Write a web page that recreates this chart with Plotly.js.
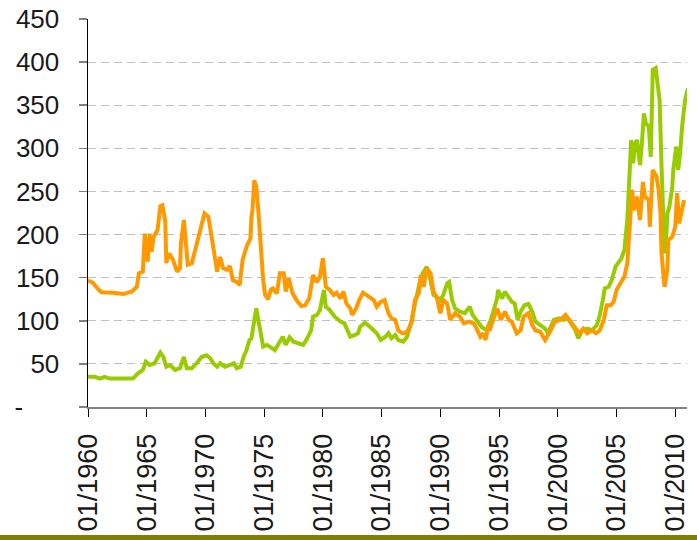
<!DOCTYPE html>
<html>
<head>
<meta charset="utf-8">
<script src="https://cdn.plot.ly/plotly-3.0.1.min.js"></script>
<style>
  html, body { margin: 0; padding: 0; background: #ffffff; }
  #chart { width: 697px; height: 540px; }
</style>
</head>
<body>
<div id="chart"></div>
<script>
// ---- Data ----
const orangeDates = [
 "1960-01","1960-06","1960-12","1961-03","1962-03","1963-01","1963-10","1964-03","1964-05","1964-09",
 "1964-11","1965-02","1965-04","1965-06","1965-08","1965-12","1966-03","1966-05","1966-08","1966-09",
 "1966-12","1967-04","1967-08","1967-11","1967-12","1968-03","1968-05","1968-07","1968-11","1969-02",
 "1969-06","1969-09","1969-12","1970-04","1970-07","1970-11","1971-01","1971-04","1971-07","1971-11",
 "1972-02","1972-05","1972-09","1972-12","1973-03","1973-07","1973-11","1973-12","1974-01","1974-03",
 "1974-05","1974-07","1974-10","1974-12","1975-02","1975-05","1975-08","1975-10","1975-12","1976-02",
 "1976-05","1976-09","1976-11","1977-02","1977-06","1977-10","1978-03","1978-07","1978-11","1979-03",
 "1979-07","1979-10","1980-01","1980-04","1980-08","1980-12","1981-03","1981-07","1981-10","1982-01",
 "1982-05","1982-07","1982-11","1983-02","1983-06","1983-12","1984-05","1984-08","1984-12","1985-04",
 "1985-08","1985-11","1986-03","1986-06","1986-10","1987-01","1987-04","1987-08","1987-11","1988-03",
 "1988-05","1988-08","1988-11","1989-03","1989-06","1989-09","1990-01","1990-04","1990-08","1990-11",
 "1991-04","1991-09","1992-01","1992-06","1992-11","1993-02","1993-06","1993-09","1993-11","1994-02",
 "1994-04","1994-07","1994-11","1995-03","1995-07","1995-11","1996-02","1996-07","1996-11","1997-02",
 "1997-07","1997-11","1998-02","1998-07","1998-12","1999-05","1999-10","2000-03","2000-09","2001-02",
 "2001-07","2001-11","2002-03","2002-07","2002-12","2003-04","2003-08","2003-12","2004-03","2004-07",
 "2004-10","2005-01","2005-05","2005-09","2005-12","2006-02","2006-05","2006-07","2006-10","2007-01",
 "2007-04","2007-06","2007-10","2007-11","2008-02","2008-06","2008-08","2008-10","2008-11","2009-02",
 "2009-05","2009-06","2009-10","2010-01","2010-03","2010-05","2010-08","2010-10"
];
const orangeValues = [
 147,144,136,133,132.5,131,134,139.5,155,157,
 201,168.5,201,180,197.5,205,233,234,215,167,
 178,170.5,157,161,190,217,190,165,166.7,182,
 197.5,211,224.6,220.7,201,174,157,174,161,159,
 163.5,147,145,141.5,170.5,186,195.7,220.7,228.5,263,
 255.5,228.5,178,147,130,125,136.5,137.6,134,132,
 155,155,134,149,132,124,117,118,126,153,
 145,151,172.5,139.5,135.7,130,132.6,126,134,120,
 114.5,106.7,114.5,124,132.6,128,124,116.3,122,124,
 108.7,102.9,101,89,85.5,85.5,89,99,124,132,
 153,139.5,161,155,134,128,108.7,124,120,101,
 108.7,104.7,97,99,97,91,81.5,85.5,77.7,93,
 91,101,114.5,101,110.5,101,99,85.5,89,104.7,
 108.7,95,89,87.3,77.7,87.3,99,101,106.7,99,
 91,85.5,91,85.5,89,85.5,89,101,118,118,
 122,135.7,143.5,151,166.7,209,251.7,228.5,244,217,
 261,244,240,209,275,267,251.7,224.6,178,139.5,
 159,193.7,197.5,209,248,213,232,240
];
const greenDates = [
 "1960-01","1960-08","1961-01","1961-06","1961-11","1963-11","1964-04","1964-09","1964-12","1965-04",
 "1965-09","1966-01","1966-03","1966-06","1966-09","1967-01","1967-06","1967-11","1968-03","1968-06",
 "1968-11","1969-04","1969-09","1970-02","1970-06","1970-09","1971-01","1971-04","1971-09","1972-02",
 "1972-06","1972-09","1973-01","1973-04","1973-07","1973-10","1973-12","1974-03","1974-05","1974-07",
 "1974-09","1974-12","1975-04","1975-07","1975-12","1976-04","1976-08","1976-11","1977-03","1977-07",
 "1977-12","1978-05","1978-09","1979-01","1979-03","1979-07","1979-10","1980-01","1980-02","1980-04",
 "1980-08","1981-01","1981-07","1981-11","1982-02","1982-05","1982-10","1983-01","1983-03","1983-08",
 "1984-01","1984-05","1984-08","1984-12","1985-05","1985-08","1985-11","1986-03","1986-06","1986-11",
 "1987-03","1987-06","1987-09","1988-01","1988-04","1988-07","1988-11","1989-03","1989-06","1989-09",
 "1990-01","1990-04","1990-08","1990-10","1991-01","1991-04","1991-09","1992-02","1992-07","1992-10",
 "1993-02","1993-07","1993-12","1994-04","1994-07","1994-11","1994-12","1995-04","1995-07","1995-11",
 "1996-02","1996-05","1996-08","1996-11","1997-03","1997-07","1997-11","1998-02","1998-07","1998-12",
 "1999-03","1999-09","2000-02","2000-07","2000-11","2001-03","2001-07","2001-10","2002-02","2002-07",
 "2002-12","2003-05","2003-08","2003-11","2004-01","2004-05","2004-08","2004-12","2005-03","2005-06",
 "2005-09","2005-12","2006-02","2006-04","2006-06","2006-08","2006-10","2007-01","2007-03","2007-05",
 "2007-07","2007-10","2007-12","2008-02","2008-05","2008-07","2008-09","2008-11","2009-01","2009-02",
 "2009-04","2009-05","2009-07","2009-10","2009-11","2010-02","2010-04","2010-06","2010-08","2010-09",
 "2010-11","2011-02"
];
const greenValues = [
 35,35,33,35,33,33,39,43,52.5,48.7,
 50.7,58,63,58,46.7,48.7,43,45,58,45,
 45,50.7,58,60,56.5,50.7,46.7,50.7,46.7,48.7,
 50.7,45,46.7,58,66,77.7,79.7,101,114.5,101,
 85.5,70,72,70,66,74,81.5,72,80.8,75.7,
 74,72,79.7,89,104.7,106.7,112.5,128,135.7,116.3,
 112.5,104.7,99,97,89,81.5,83.5,85.5,93,97.8,
 93,89,85.5,77.7,81.5,85.5,79.7,83.5,77.7,75.7,
 81.5,93,108.7,128,145,155,162.7,147,130,128,
 124,130,143.5,145,124,114.5,110.5,108.7,116.3,106.7,
 101,93,89,99,110.5,126,135.7,126,133.7,128,
 122,120,101,110.5,118,119.5,110.5,99,95,91,
 85.5,101,102.9,101,102.9,95,89,79.7,89,91,
 89,95,106.7,124,137.6,139.5,147,162.7,168.5,172.5,
 182,217,263,309.7,282.6,305.8,309.7,280.7,305.8,340.6,
 329,325,290,391,393,375.4,356,278.7,209,178,
 201,224.6,232,255.5,275,302,275,294,325,338.7,
 356,369.6
];
const xTickYears = [1960,1965,1970,1975,1980,1985,1990,1995,2000,2005,2010];
const xTickLabels = ["01/1960","01/1965","01/1970","01/1975","01/1980","01/1985","01/1990","01/1995","01/2000","01/2005","01/2010"];
const yTickValues = [0,50,100,150,200,250,300,350,400,450];
const yTickLabels = ["-\u00a0\u00a0\u00a0\u00a0\u00a0","50","100","150","200","250","300","350","400","450"];

// ---- Chart ----
const FONT = "'Liberation Sans', Arial, sans-serif";
const traces = [
  { x: greenDates, y: greenValues, type: "scatter", mode: "lines",
    line: { color: "#99CC00", width: 4 }, hoverinfo: "skip", name: "green" },
  { x: orangeDates, y: orangeValues, type: "scatter", mode: "lines",
    line: { color: "#FF9900", width: 4 }, hoverinfo: "skip", name: "orange" }
];

const layout = {
  width: 697, height: 540,
  margin: { l: 88, r: 10, t: 19, b: 133, pad: 0 },
  paper_bgcolor: "#ffffff", plot_bgcolor: "#ffffff",
  showlegend: false,
  font: { family: FONT, color: "#000000" },
  xaxis: {
    type: "date",
    range: ["1960-01-01", "2011-01-01"],
    tickvals: xTickYears.map(y => y + "-01-01"),
    ticktext: xTickLabels,
    tickangle: -90,
    ticks: "outside", ticklen: 8, tickwidth: 1, tickcolor: "#000000",
    showline: true, linecolor: "#808080", linewidth: 2,
    showgrid: false, zeroline: false,
    tickfont: { family: FONT, size: 27, color: "#1a1a1a" },
    ticklabelstandoff: 6
  },
  yaxis: {
    range: [0, 450],
    tickvals: yTickValues,
    ticktext: yTickLabels,
    ticks: "outside", ticklen: 8, tickwidth: 1.5, tickcolor: "#808080",
    showline: true, linecolor: "#000000", linewidth: 1.5,
    showgrid: true, gridcolor: "#c0c0c0", gridwidth: 1, griddash: "8px,5px",
    zeroline: false,
    tickfont: { family: FONT, size: 26, color: "#1a1a1a" },
    ticklabelstandoff: 14
  },
  shapes: [{
    type: "rect", xref: "paper", yref: "paper",
    x0: -0.2, x1: 1.1, y0: (407 - 541) / 388, y1: (407 - 535) / 388,
    fillcolor: "#808000", line: { width: 0 }, layer: "above"
  }]
};

Plotly.newPlot("chart", traces, layout, { staticPlot: true, displayModeBar: false });
</script>
</body>
</html>
